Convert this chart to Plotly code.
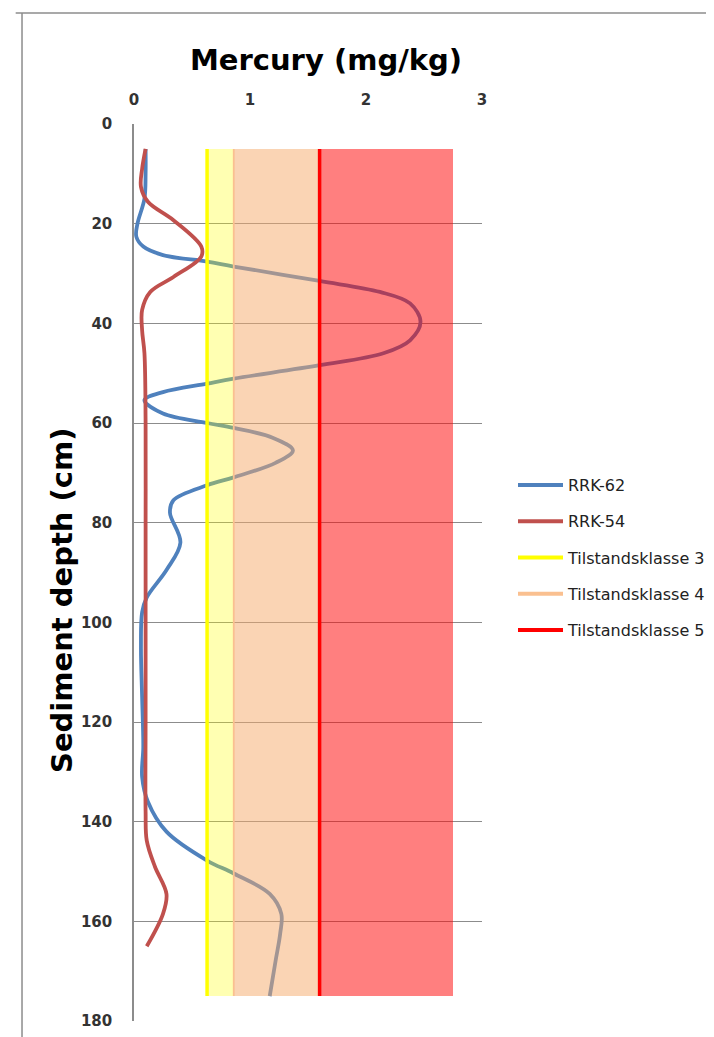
import plotly.graph_objects as go

# --- data ---
rrk62_depth = [5, 10, 15, 20, 22.6, 24.6, 26.3, 27.6, 28.6, 31.5, 33.7, 36.0, 39.7, 43.4, 46.0, 48.4,
               51.1, 52.1, 53.8, 55.4, 58.1, 60.0, 61.0, 63.0, 65.5, 68.0, 70.9, 72.5, 75.5, 78.0,
               84.0, 89.5, 95.0, 98.0, 105, 115, 125, 131, 136, 142, 147.8, 150.4, 154.5, 158.5,
               162.5, 168, 175]
rrk62_hg = [0.10, 0.10, 0.09, 0.03, 0.02, 0.08, 0.25, 0.63, 0.86, 1.60, 2.12, 2.38, 2.47, 2.38, 2.15, 1.60,
            0.86, 0.63, 0.25, 0.09, 0.25, 0.63, 0.86, 1.20, 1.37, 1.22, 0.86, 0.63, 0.34, 0.31,
            0.40, 0.28, 0.11, 0.07, 0.06, 0.07, 0.08, 0.07, 0.12, 0.28, 0.63, 0.86, 1.17, 1.27,
            1.26, 1.22, 1.17]

rrk54_depth = [5, 9, 12.6, 15.6, 19.3, 24.6, 26.6, 30.7, 33.7, 37.3, 41.4, 46, 60, 80, 100, 120,
               138, 143.8, 149, 154.5, 158.5, 165]
rrk54_hg = [0.10, 0.07, 0.06, 0.12, 0.34, 0.58, 0.58, 0.34, 0.14, 0.07, 0.07, 0.09, 0.10, 0.10, 0.10, 0.10,
            0.10, 0.11, 0.18, 0.28, 0.25, 0.11]

# Tilstandsklasse limits (mg/kg) and depth span of the class bands
class_limits = [0.63, 0.86, 1.6, 2.75]
band_depths = [5, 175]

x_ticks = [0, 1, 2, 3]
y_ticks = [0, 20, 40, 60, 80, 100, 120, 140, 160, 180]

series_names = ["RRK-62", "RRK-54", "Tilstandsklasse 3", "Tilstandsklasse 4", "Tilstandsklasse 5"]
series_colors = ["#4F81BD", "#C0504D", "#FFFF00", "#FAC090", "#FF0000"]

fig = go.Figure()

curve_data = [(rrk62_hg, rrk62_depth), (rrk54_hg, rrk54_depth)]
for (xs, ys), col in zip(curve_data, series_colors[:2]):
    fig.add_trace(go.Scatter(x=xs, y=ys, mode="lines", showlegend=False,
                             line=dict(color=col, width=3.8, shape="spline", smoothing=1.0)))

band_colors = ["rgba(255,255,0,0.30)", "rgba(245,170,105,0.50)", "rgba(255,0,0,0.50)"]
d0, d1 = band_depths
for i, col in enumerate(band_colors):
    a, b = class_limits[i], class_limits[i + 1]
    fig.add_trace(go.Scatter(x=[a, b, b, a, a], y=[d0, d0, d1, d1, d0], mode="lines",
                             fill="toself", fillcolor=col, line=dict(width=0),
                             showlegend=False, hoverinfo="skip"))

line_widths = [3.5, 1.8, 3.5]
for col, lim, w in zip(series_colors[2:], class_limits[:3], line_widths):
    fig.add_trace(go.Scatter(x=[lim, lim], y=band_depths, mode="lines", showlegend=False,
                             line=dict(color=col, width=w)))

# legend entries
for name, col in zip(series_names, series_colors):
    fig.add_trace(go.Scatter(x=[None], y=[None], mode="lines", name=name, legendgroup=name,
                             line=dict(color=col, width=4)))

# chart-area border (top and left)
fig.add_shape(type="line", xref="paper", yref="paper", x0=-0.34, x1=1.7, y0=1.1237, y1=1.1237,
              line=dict(color="#8C8C8C", width=1.5))
fig.add_shape(type="line", xref="paper", yref="paper", x0=-0.3218, x1=-0.3218, y0=1.1237, y1=-0.05,
              line=dict(color="#8C8C8C", width=1.5))

# y-axis title (placed as in the reference, slightly below the axis centre)
fig.add_annotation(text="<b>Sediment depth (cm)</b>", xref="paper", yref="paper",
                   x=(62 - 134) / 348, y=(1021 - 601) / 897, xanchor="center", yanchor="middle",
                   textangle=-90, showarrow=False, font=dict(size=29, color="black"))

tick_font = dict(size=15, color="#333", weight="bold")

# page body has an 8px margin; figure is sized so the plot lands where the reference has it
W, H = 706, 1029
fig.update_layout(
    width=W, height=H,
    margin=dict(l=126, r=232, t=116, b=16, autoexpand=False),
    paper_bgcolor="white", plot_bgcolor="white",
    font=dict(family="DejaVu Sans", color="#1a1a1a"),
    title=dict(text="<b>Mercury (mg/kg)</b>", x=(326 - 8) / W, xanchor="center",
               y=1 - (60 - 8) / H, yanchor="middle", font=dict(size=29, color="black")),
    showlegend=True,
    legend=dict(x=(513 - 134) / 348, xanchor="left", y=(1021 - 468) / 897, yanchor="top",
                font=dict(size=16, color="#222"), tracegroupgap=12.5, itemwidth=45,
                bgcolor="rgba(0,0,0,0)"),
    xaxis=dict(side="top", range=[0, 3], tickvals=x_ticks, showgrid=False, zeroline=False,
               showline=False, ticks="", tickfont=tick_font,
               automargin=False, ticklabelstandoff=15),
    yaxis=dict(range=[180, 0], tickvals=y_ticks, showgrid=True, gridcolor="#8C8C8C", gridwidth=1.3,
               zeroline=False, showline=True, linecolor="#8C8C8C", linewidth=1.5,
               ticks="", automargin=False, ticklabelstandoff=17,
               tickfont=tick_font),
)

fig.write_html("out.html")
